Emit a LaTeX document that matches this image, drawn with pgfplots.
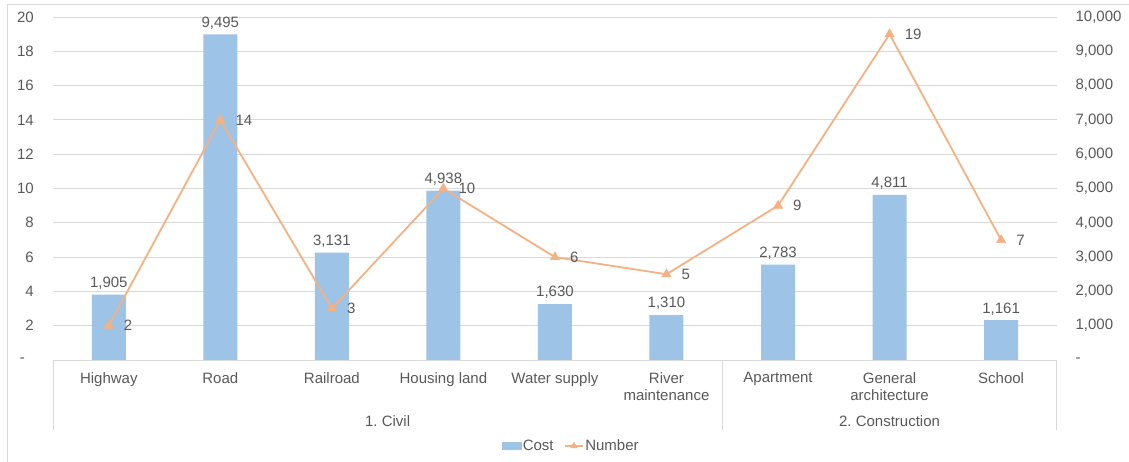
\documentclass[border=0pt]{standalone}
\usepackage{pgfplots}
\pgfplotsset{compat=1.18}
\usepackage{fontspec}
\setmainfont{Liberation Sans}
\frenchspacing
\definecolor{barblue}{HTML}{9DC3E6}
\definecolor{lineorange}{HTML}{F4B183}
\definecolor{txtgray}{HTML}{595959}
\definecolor{gridgray}{HTML}{D9D9D9}
\newcommand{\lblfont}{\fontsize{15}{17}\selectfont}
\pgfplotsset{
  /pgf/number format/assume math mode=true,
  base/.style={
    at={(53pt,102pt)}, anchor=south west,
    scale only axis, width=1004pt, height=343pt,
    xmin=-0.5, xmax=8.5,
    axis line style={draw=none},
    major tick length=0pt,
    scaled y ticks=false,
    tick label style={font=\lblfont, text=txtgray},
  },
  costlegend/.style={legend image code/.code={\fill[barblue] (0pt,-3.5pt) rectangle (19pt,3.5pt);}},
  numlegend/.style={legend image code/.code={\draw[mark repeat=2,mark phase=2,##1,line width=1.6pt,mark size=3.8pt] plot coordinates {(0pt,0pt) (9pt,0pt) (18pt,0pt)};}},
}
\begin{document}
\begin{tikzpicture}
\useasboundingbox (0pt,0pt) rectangle (1129pt,462pt);
\draw[gridgray, line width=0.8pt] (7.5pt,0pt) -- (7.5pt,457.5pt) -- (1129pt,457.5pt);

\begin{axis}[base,
  ybar, bar width=34pt,
  ymin=0, ymax=10000,
  ytick={0,1000,2000,3000,4000,5000,6000,7000,8000,9000,10000},
  yticklabels={-,{1,000},{2,000},{3,000},{4,000},{5,000},{6,000},{7,000},{8,000},{9,000},{10,000}},
  yticklabel pos=right,
  yticklabel style={anchor=west, inner sep=0pt, xshift=18.5pt},
  xtick=\empty,
  ymajorgrids, grid style={gridgray, line width=0.8pt},
  nodes near coords={\pgfmathprintnumber[1000 sep={,}]{\pgfplotspointmeta}},
  every node near coord/.append style={font=\lblfont, text=txtgray, anchor=south, inner sep=0pt, yshift=5pt},
]
\addplot[fill=barblue, draw=none] coordinates {
  (0,1905) (1,9495) (2,3131) (3,4938) (4,1630) (5,1310) (6,2783) (7,4811) (8,1161)
};
\end{axis}

\begin{axis}[base,
  ymin=0, ymax=20,
  ytick={0,2,4,6,8,10,12,14,16,18,20},
  yticklabels={{-\hspace*{9pt}},2,4,6,8,10,12,14,16,18,20},
  yticklabel style={anchor=east, inner sep=0pt, xshift=-19pt},
  xtick={0,1,2,3,4,5,6,7,8},
  xticklabels={Highway,Road,Railroad,Housing land,Water supply,{River\\maintenance},Apartment,{General\\architecture},School},
  xticklabel style={align=center, anchor=north, inner sep=0pt, yshift=-12.3pt},
  clip=false,
  legend style={at={(0.516,-0.2507)}, anchor=center, draw=none, fill=none,
    font=\lblfont, text=txtgray, legend columns=2,
    /tikz/every even column/.append style={column sep=9pt},
    nodes={inner sep=1.5pt}},
]
\addlegendimage{costlegend}
\addlegendentry{Cost}
\addplot[lineorange, line width=1.8pt, mark=triangle*, mark size=5.4pt,
  mark options={solid, fill=lineorange, draw=lineorange, line width=0.4pt},
  nodes near coords,
  every node near coord/.append style={anchor=west, xshift=15pt, font=\lblfont, text=txtgray, inner sep=0pt},
  numlegend
] coordinates {
  (0,2) (1,14) (2,3) (3,10) (4,6) (5,5) (6,9) (7,19) (8,7)
};
\addlegendentry{Number}
\draw[gridgray, line width=0.8pt] (axis cs:-0.5,0) -- ++(0pt,-70pt);
\draw[gridgray, line width=0.8pt] (axis cs:5.5,0) -- ++(0pt,-70pt);
\draw[gridgray, line width=0.8pt] (axis cs:8.5,0) -- ++(0pt,-70pt);
\node[font=\lblfont, text=txtgray, yshift=-61.5pt] at (axis cs:2.5,0) {1. Civil};
\node[font=\lblfont, text=txtgray, yshift=-61.5pt] at (axis cs:7,0) {2. Construction};
\end{axis}
\end{tikzpicture}
\end{document}
